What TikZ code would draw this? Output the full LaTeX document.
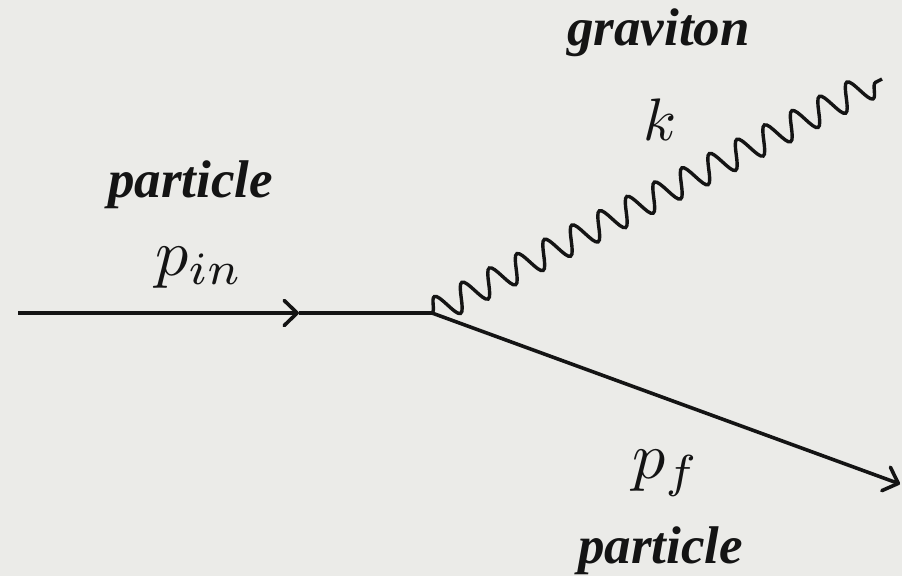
\documentclass[tikz,border=0pt]{standalone}
\usepackage{fontspec}
\setmainfont{Liberation Serif}
\usetikzlibrary{arrows.meta,decorations.pathmorphing}
\definecolor{bg}{RGB}{235,235,232}
\definecolor{ink}{RGB}{20,20,20}
\tikzset{
  fermion/.style={draw=ink, line width=3.6pt},
  tip/.style={-{Straight Barb[length=13pt,width=25pt,line width=3.6pt,round]}},
  graviton/.style={draw=ink, line width=3.4pt, decorate,
    decoration={snake, amplitude=13.5pt, segment length=31pt}},
  wordlabel/.style={inner sep=0pt, anchor=base west, text=ink,
    font=\fontsize{53}{60}\selectfont\bfseries\itshape},
  mathlabel/.style={inner sep=0pt, anchor=base west, text=ink}
}
\begin{document}
\begin{tikzpicture}[x=1pt,y=-1pt]
  \fill[bg] (0,0) rectangle (902,576);
  \useasboundingbox (0,0) rectangle (902,576);
  \coordinate (a) at (18,313);
  \coordinate (m) at (299,313);
  \coordinate (v) at (432,313);
  \coordinate (f) at (900,484);
  \coordinate (g) at (882,79);
  \draw[fermion,tip] (a) -- (m);
  \draw[fermion] (m) -- (v);
  \draw[fermion,tip] (v) -- (f);
  \draw[graviton] (v) -- (g);
  \node[wordlabel] (tg) at (567,45) {graviton};
  \node[wordlabel] (tp1) at (108,197) {particle};
  \node[wordlabel] (tp2) at (578,563) {particle};
  \node[mathlabel] (lk) at (643,140) {\scalebox{6}{$k$}};
  \node[mathlabel] (lpin) at (155,275) {\scalebox{6.6}{$p_{in}$}};
  \node[mathlabel] (lpf) at (632,478) {\scalebox{6.6}{$p_{f}$}};
\end{tikzpicture}
\end{document}
